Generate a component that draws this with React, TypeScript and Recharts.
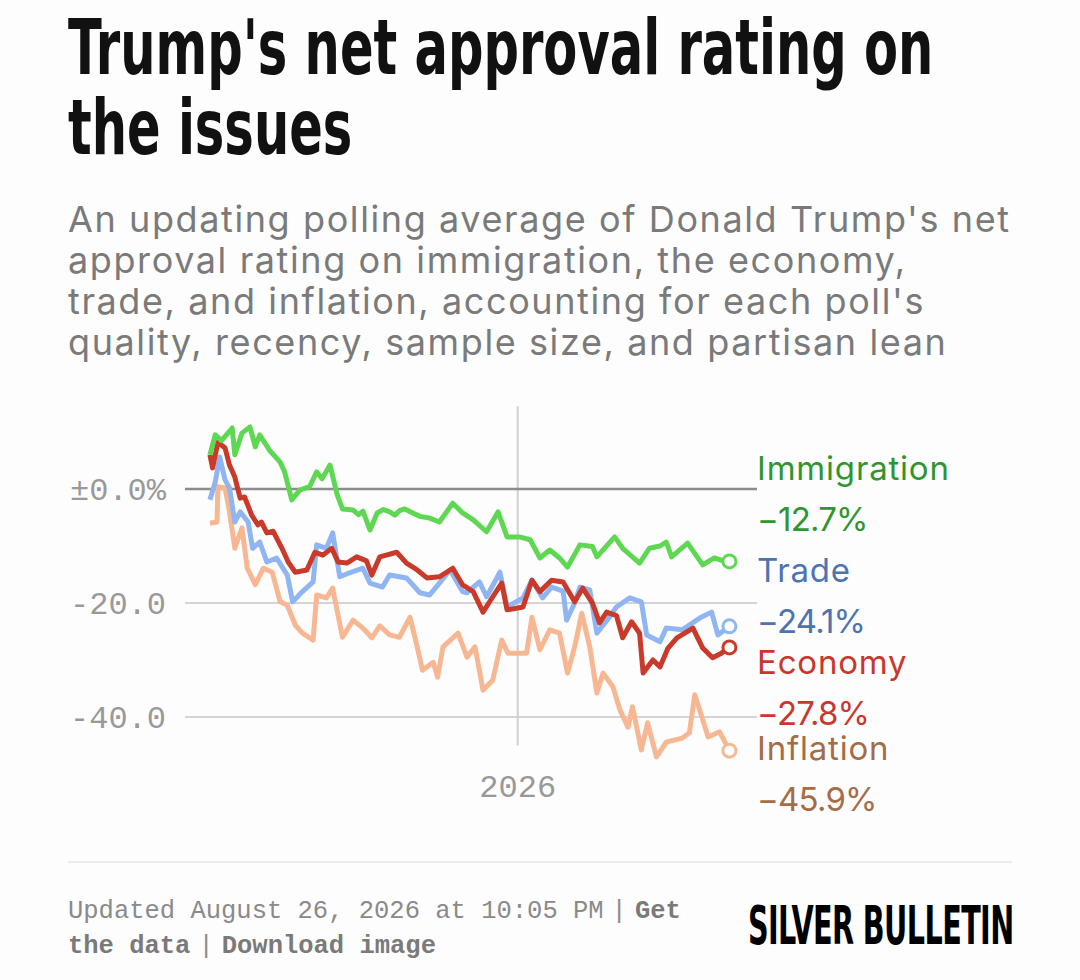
import { LineChart, Line, XAxis, YAxis, ReferenceLine } from 'recharts';

// x = days since Jan 20, 2025; y = net approval (points)
const JAN_1_2026 = 346;

const immigration: [number, number][] = [
  [0, 6.0], [6, 9.5], [13, 8.5], [25, 10.7], [28, 6.0], [36, 9.8], [45, 10.9], [51, 7.4],
  [56, 9.5], [67, 6.8], [79, 4.7], [84, 3.0], [92, -1.9], [101, -0.2], [112, 0.4], [120, 3.0],
  [126, 1.8], [135, 4.2], [140, 1.0], [143, -1.0], [149, -3.5], [161, -3.7], [167, -4.5],
  [172, -3.9], [180, -7.2], [188, -4.2], [195, -3.6], [202, -4.0], [208, -4.6], [213, -3.8],
  [219, -3.5], [228, -4.2], [236, -4.8], [247, -5.1], [258, -5.8], [273, -2.5], [284, -4.2],
  [296, -5.4], [311, -7.5], [324, -4.0], [334, -8.4], [348, -8.4], [360, -8.9], [371, -12.1],
  [382, -10.7], [393, -12.1], [402, -13.7], [416, -9.8], [430, -10.1], [435, -11.9], [455, -8.4],
  [464, -10.4], [483, -13.0], [494, -10.4], [506, -10.0], [513, -9.3], [519, -11.9], [537, -9.5],
  [554, -13.3], [567, -12.1], [575, -12.5], [584, -12.7],
];

const trade: [number, number][] = [
  [0, -1.9], [6, 1.2], [11, 5.6], [17, 1.6], [22, 0.2], [28, -5.8], [34, -4.0], [43, -5.8],
  [48, -10.4], [56, -9.3], [64, -12.8], [75, -12.1], [87, -15.1], [93, -19.8], [104, -18.0],
  [116, -16.3], [120, -9.8], [131, -10.4], [138, -7.7], [146, -15.4], [157, -14.7], [172, -13.9],
  [180, -16.5], [194, -17.2], [202, -15.1], [221, -15.6], [236, -18.2], [247, -18.6], [258, -16.5],
  [270, -14.2], [284, -18.0], [289, -18.2], [303, -16.3], [311, -18.9], [326, -14.6], [334, -20.7],
  [352, -19.1], [362, -16.0], [374, -19.1], [384, -17.2], [397, -17.9], [401, -23.0], [410, -20.0],
  [416, -17.2], [427, -17.7], [435, -25.3], [449, -22.5], [457, -20.7], [472, -19.1], [485, -19.8],
  [491, -25.6], [506, -26.8], [513, -24.4], [531, -24.7], [551, -22.6], [564, -21.6], [571, -25.6],
  [584, -24.1],
];

const economy: [number, number][] = [
  [0, 6.0], [3, 3.7], [9, 8.2], [17, 7.2], [22, 4.2], [28, 2.1], [34, -1.6], [39, -1.4],
  [47, -4.6], [54, -6.3], [58, -5.8], [64, -7.7], [71, -7.4], [81, -10.4], [88, -12.8], [96, -14.6],
  [109, -14.2], [118, -11.1], [127, -11.6], [137, -10.4], [144, -12.8], [154, -13.0], [165, -11.9],
  [176, -12.6], [182, -15.1], [191, -11.9], [210, -11.1], [221, -13.0], [233, -14.2], [244, -15.6],
  [258, -15.4], [273, -13.9], [284, -16.8], [296, -18.0], [307, -21.6], [318, -18.9], [328, -16.5],
  [334, -21.2], [352, -20.7], [362, -16.0], [371, -18.0], [384, -16.0], [397, -16.3], [410, -19.8],
  [419, -17.4], [430, -20.0], [438, -23.5], [446, -21.6], [457, -22.2], [464, -26.1], [474, -23.3],
  [483, -25.3], [487, -32.3], [498, -30.0], [506, -31.2], [515, -27.9], [525, -26.1], [543, -24.4],
  [554, -27.9], [565, -29.6], [575, -28.8], [584, -27.8],
];

const inflation: [number, number][] = [
  [0, -6.0], [8, -5.8], [9, 0.4], [17, 0.2], [22, -4.0], [28, -10.4], [36, -6.8], [42, -13.9],
  [51, -16.8], [60, -13.9], [70, -14.6], [79, -19.8], [87, -20.4], [96, -23.9], [104, -25.3],
  [116, -26.5], [120, -18.6], [131, -19.1], [138, -17.4], [149, -26.0], [161, -23.0], [172, -24.4],
  [182, -26.1], [191, -24.0], [202, -25.6], [213, -26.0], [225, -22.5], [233, -27.7], [239, -31.8],
  [251, -30.4], [256, -33.0], [262, -27.7], [279, -25.3], [289, -29.5], [298, -27.7], [307, -35.3],
  [318, -33.5], [328, -26.5], [335, -28.8], [356, -28.8], [362, -22.5], [371, -28.2], [382, -24.7],
  [393, -25.3], [402, -32.3], [410, -27.7], [418, -21.8], [427, -27.7], [435, -35.8], [442, -32.3],
  [453, -34.7], [461, -38.8], [470, -41.8], [475, -38.2], [485, -45.8], [492, -41.0], [502, -47.0],
  [513, -44.4], [531, -43.7], [539, -42.8], [545, -36.1], [554, -40.5], [560, -43.5], [573, -42.6],
  [584, -45.9],
];

const series = [
  { name: 'Inflation', points: inflation, line: '#f8b793', text: '#a56c48' },
  { name: 'Trade', points: trade, line: '#8fb5f3', text: '#4d73b2' },
  { name: 'Economy', points: economy, line: '#c93a2b', text: '#c9372c' },
  { name: 'Immigration', points: immigration, line: '#5ed752', text: '#2f962f' },
];

const yTicks = [0, -20, -40];
const xTicks = [JAN_1_2026];

// baselines of name / value for each label on the right
const labelLayout: Record<string, [number, number]> = {
  Immigration: [480, 531],
  Trade: [582, 633],
  Economy: [674, 725],
  Inflation: [760, 811],
};

const mono = "'Liberation Mono', 'DejaVu Sans Mono', monospace";
const sans = "Inter, 'Noto Sans', sans-serif";
const condensed = "'Liberation Sans Narrow', 'DejaVu Sans Condensed', sans-serif";

const fmtY = (v: number) => (v === 0 ? '±0.0%' : v.toFixed(1));
const fmtLast = (v: number) => `${v.toFixed(1).replace('-', '\u2212')}%`;

function EndDot(color: string, count: number) {
  return (props: any) => {
    if (props.index !== count - 1) return <g key={props.index} />;
    return (
      <circle key={props.index} cx={props.cx} cy={props.cy} r={6.5} fill="#fff" stroke={color} strokeWidth={3} />
    );
  };
}

const footLine = {
  position: 'absolute' as const,
  left: 68,
  fontFamily: mono,
  fontSize: 25.5,
  lineHeight: '30px',
  color: '#8a8a8a',
  whiteSpace: 'nowrap' as const,
};
const bold = { color: '#7a7a7a', fontWeight: 700 };
const pipe = { margin: '0 8px' };

export default function App() {
  return (
    <div
      style={{
        position: 'absolute',
        left: 0,
        top: 0,
        width: 1080,
        height: 980,
        background: '#fdfdfd',
        overflow: 'hidden',
      }}
    >
      <div
        style={{
          position: 'absolute',
          left: 68,
          top: 8,
          fontFamily: condensed,
          fontWeight: 700,
          fontSize: 76,
          lineHeight: '80px',
          color: '#111',
          whiteSpace: 'nowrap',
          transform: 'scaleX(0.725)',
          transformOrigin: 'left top',
        }}
      >
        Trump's net approval rating on
        <br />
        the issues
      </div>

      <div
        style={{
          position: 'absolute',
          left: 68,
          top: 199,
          fontFamily: sans,
          fontSize: 36,
          letterSpacing: 1.6,
          lineHeight: '41px',
          color: '#7a7a7a',
          whiteSpace: 'nowrap',
        }}
      >
        An updating polling average of Donald Trump's net
        <br />
        approval rating on immigration, the economy,
        <br />
        trade, and inflation, accounting for each poll's
        <br />
        quality, recency, sample size, and partisan lean
      </div>

      <div style={{ position: 'absolute', left: 0, top: 0 }}>
        <LineChart width={1080} height={980} margin={{ top: 403.5, right: 323, bottom: 187.4, left: 85 }}>
          <XAxis
            type="number"
            dataKey="0"
            domain={[-28, 615]}
            ticks={xTicks}
            tickFormatter={() => '2026'}
            axisLine={false}
            tickLine={false}
            tickSize={0}
            tickMargin={12}
            height={30}
            allowDataOverflow
            tick={{ fill: '#999', fontSize: 32, fontFamily: mono }}
          />
          <YAxis
            type="number"
            domain={[-48, 15]}
            ticks={yTicks}
            tickFormatter={fmtY}
            axisLine={false}
            tickLine={false}
            tickSize={0}
            tickMargin={19}
            width={100}
            allowDataOverflow
            tick={{ fill: '#999', fontSize: 32, fontFamily: mono }}
          />
          {yTicks
            .filter((t) => t !== 0)
            .map((t) => (
              <ReferenceLine key={t} y={t} stroke="#d4d4d4" strokeWidth={2} />
            ))}
          <ReferenceLine
            segment={[{ x: JAN_1_2026, y: 14.5 }, { x: JAN_1_2026, y: -45 }]}
            stroke="#cfcfcf"
            strokeWidth={2}
          />
          <ReferenceLine y={0} stroke="#8c8c8c" strokeWidth={2.5} />
          {series.map((s) => (
            <Line
              key={s.name}
              data={s.points}
              dataKey="1"
              type="linear"
              stroke={s.line}
              strokeWidth={5}
              strokeLinejoin="round"
              dot={EndDot(s.line, s.points.length)}
              activeDot={false}
              isAnimationActive={false}
            />
          ))}
        </LineChart>
      </div>

      {series.map((s) => {
        const [nameBase, valueBase] = labelLayout[s.name];
        const last = s.points[s.points.length - 1][1];
        const style = {
          position: 'absolute' as const,
          left: 757,
          fontFamily: sans,
          fontSize: 33,
          lineHeight: '33px',
          color: s.text,
          whiteSpace: 'nowrap' as const,
        };
        return (
          <div key={s.name}>
            <div style={{ ...style, top: nameBase - 28.5, letterSpacing: 0.8 }}>{s.name}</div>
            <div style={{ ...style, top: valueBase - 28.5, letterSpacing: -0.8 }}>{fmtLast(last)}</div>
          </div>
        );
      })}

      <div style={{ position: 'absolute', left: 68, top: 861, width: 944, height: 2, background: '#ececec' }} />

      <div style={{ ...footLine, top: 897 }}>
        Updated August 26, 2026 at 10:05 PM<span style={pipe}>|</span>
        <span style={bold}>Get</span>
      </div>
      <div style={{ ...footLine, top: 932 }}>
        <span style={bold}>the data</span>
        <span style={pipe}>|</span>
        <span style={bold}>Download image</span>
      </div>

      <div
        style={{
          position: 'absolute',
          left: 748,
          top: 896,
          fontFamily: condensed,
          fontWeight: 700,
          fontSize: 54,
          lineHeight: '60px',
          color: '#000',
          whiteSpace: 'nowrap',
          transform: 'scaleX(0.59)',
          transformOrigin: 'left top',
          letterSpacing: -1,
        }}
      >
        SILVER BULLETIN
      </div>
    </div>
  );
}
